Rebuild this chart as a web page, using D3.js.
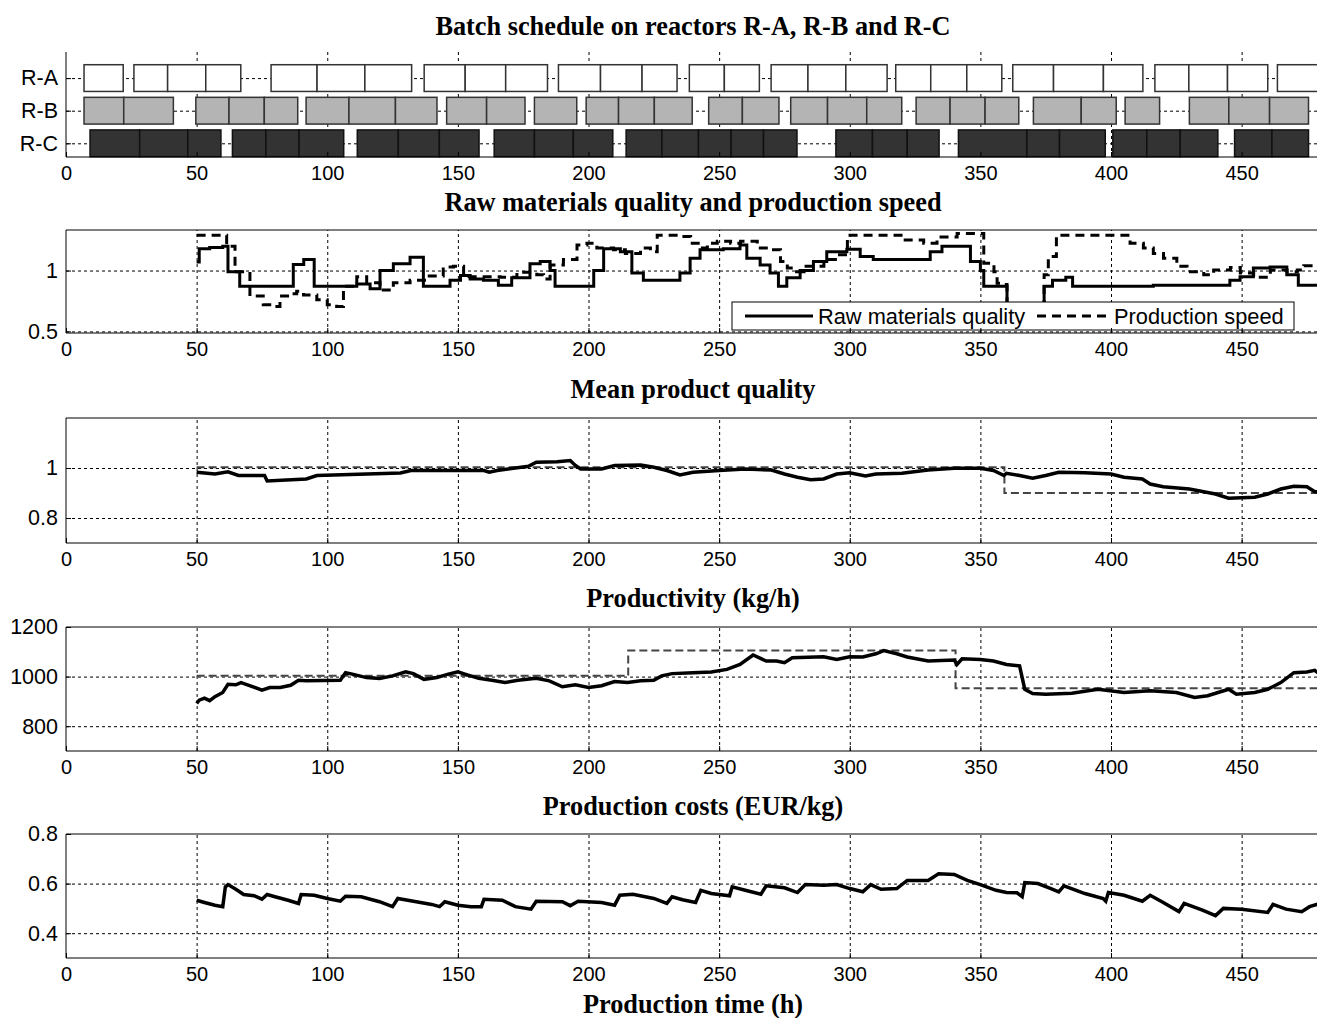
<!DOCTYPE html>
<html>
<head>
<meta charset="utf-8">
<script src="https://cdn.jsdelivr.net/npm/d3@7"></script>
<style>
body { margin: 0; background: #fff; }
svg { display: block; }
.tick text { font-family: "Liberation Sans", Arial, sans-serif; font-size: 20px; fill: #000; }
.y-axis .tick text { font-size: 21.5px; }
.title { font-family: "Liberation Serif", "Times New Roman", serif; font-weight: bold; font-size: 26.3px; fill: #000; }
.legend text { font-family: "Liberation Sans", Arial, sans-serif; font-size: 21.8px; fill: #000; }
</style>
</head>
<body>
<svg id="chart"></svg>
<script>
const T_MAX = 480;
const X_TICKS = [0, 50, 100, 150, 200, 250, 300, 350, 400, 450];

// batch schedule: [start, end] in hours
const REACTORS = ['R-A', 'R-B', 'R-C'];
const BATCHES_A = [[6.9,21.9],[26,38.9],[38.9,53.5],[53.5,66.9],[78.5,96.1],[96.1,114.4],[114.4,132.3],
	[137.1,152.8],[152.8,168.3],[168.3,184.3],[188.5,204.6],[204.6,220.5],[220.5,233.9],[238.6,252],
	[252,265.4],[269.9,284],[284,298.5],[298.5,314.3],[317.6,331],[331,344.8],[344.8,358.2],[362.4,378],
	[378,397.1],[397.1,412.2],[416.8,429.8],[429.8,444.6],[444.6,460],[463.7,486]];
const BATCHES_B = [[6.9,22.1],[22.1,41.1],[49.7,62.4],[62.4,75.9],[75.9,88.7],[91.9,108.3],[108.3,126.1],
	[126.1,142],[145.7,161],[161,175.7],[179.3,195.5],[199.1,211.5],[211.5,225.2],[225.2,239.7],[246,258.9],
	[258.9,272.9],[277.4,291.5],[291.5,306.5],[306.5,319.9],[325.4,338.4],[338.4,351.8],[351.8,364.7],
	[370.3,388.6],[388.6,402],[405.4,418.6],[430,445.1],[445.1,460.7],[460.7,475.6]];
const BATCHES_C = [[9.2,28.2],[28.2,46.6],[46.6,59.3],[63.7,76.5],[76.5,89.2],[89.2,106.3],[111.5,127.2],
	[127.2,142.9],[142.9,158.1],[163.9,179.3],[179.3,194.2],[194.2,209.3],[214.4,228.1],[228.1,242.1],
	[242.1,254.6],[254.6,267],[267,279.8],[294.7,308.7],[308.7,322],[322,334.2],[341.6,367.8],[367.8,380.3],
	[380.3,397.8],[400.7,413.7],[413.7,426.5],[426.5,440.9],[447.3,461.6],[461.6,475.6]];

// raw materials quality and production speed (step series: [t, value])
const RAW_QUALITY = [[50,1.07],[51,1.18],[55,1.19],[60,1.2],[62,0.99],[66.5,0.87],[87,1.05],[91,1.09],[95,0.87],
	[107.5,0.87],[111.3,0.89],[116.4,0.85],[120.2,1.0],[125.3,1.055],[131.7,1.11],[136.8,0.87],[147,0.92],
	[151,0.96],[154.7,0.93],[159.8,0.92],[165.5,0.88],[170.6,0.94],[177.6,1.055],[181.5,1.075],[185.3,1.0],
	[187.2,0.87],[202,1.0],[205.8,1.18],[212.2,1.155],[216.6,0.98],[221,0.92],[235,0.98],[238.9,1.1],
	[242.7,1.17],[251.6,1.18],[258,1.21],[260.6,1.1],[265.7,1.045],[269.5,0.98],[272.7,0.87],[275.9,0.94],
	[281,1.0],[286.1,1.075],[291.2,1.155],[298.9,1.175],[304,1.115],[309,1.09],[330.8,1.155],[335.3,1.2],
	[346.2,1.075],[350,1.0],[351.3,0.87],[360.2,0.7],[374.4,0.87],[377.6,0.92],[382.7,0.945],[385.3,0.87],
	[416.2,0.88],[445.5,0.92],[449.4,0.95],[454.5,1.02],[460.9,1.03],[467.3,0.965],[471.7,0.88],[480,0.88]];
const PROD_SPEED = [[50,1.29],[61.5,1.2],[64.7,0.99],[70.4,0.79],[75.5,0.72],[78.7,0.705],[81.9,0.79],
	[85.8,0.81],[88.3,0.83],[90.9,0.8],[96,0.76],[100,0.72],[103.6,0.705],[106.2,0.87],[111.3,0.95],
	[115.1,0.9],[120.2,0.84],[125.3,0.9],[131.7,0.92],[138,0.955],[144.4,1.03],[148.3,1.035],[152.2,0.95],
	[166.2,0.945],[172.6,0.985],[180.2,0.965],[182.8,0.93],[185.3,1.045],[190.4,1.09],[195.6,1.21],
	[199.4,1.225],[203.2,1.185],[209.6,1.17],[214.1,1.14],[219.9,1.185],[223.7,1.155],[226.3,1.29],
	[235.2,1.28],[239.1,1.225],[242.9,1.185],[245.5,1.225],[249.3,1.24],[254.4,1.225],[258.2,1.24],
	[264.6,1.185],[269.7,1.17],[273.5,1.075],[276.1,1.02],[278.6,0.99],[282.5,1.035],[290.1,1.09],
	[295.2,1.13],[299.1,1.29],[320.6,1.25],[328.3,1.225],[333.4,1.275],[341.1,1.305],[351.3,1.06],
	[353.9,1.045],[355.2,0.99],[356.4,0.895],[359,0.885],[360.2,0.7],[374.4,0.965],[376,1.115],[379.1,1.29],
	[407.3,1.225],[412.4,1.185],[416.2,1.14],[420.1,1.1],[425.2,1.035],[429.1,0.99],[435.5,0.965],
	[439.3,1.005],[445.7,1.025],[449.5,0.98],[454.6,0.945],[461,1.005],[467.4,0.99],[471.3,1.005],
	[473.8,1.04],[480,1.045]];

// mean product quality
const QUALITY_TARGET = [[50,1.003],[359.2,0.9],[480,0.9]];
const MEAN_QUALITY = [[50,0.983],[57,0.976],[62,0.985],[66,0.97],[76,0.97],[77,0.948],[92,0.956],[96,0.97],
	[128,0.98],[132,0.99],[160,0.99],[162,0.983],[165,0.99],[177,1.007],[180,1.023],[188,1.025],[193,1.03],
	[195,1.01],[197,0.996],[205,0.996],[210,1.01],[220,1.012],[225,1.003],[230,0.99],[235,0.972],[240,0.983],
	[250,0.99],[260,0.996],[270,0.992],[275,0.976],[280,0.963],[285,0.953],[290,0.956],[295,0.976],
	[300,0.981],[306,0.968],[310,0.976],[320,0.979],[330,0.992],[340,0.999],[350,0.999],[355,0.99],
	[359,0.97],[360,0.979],[365,0.97],[370,0.959],[375,0.97],[380,0.983],[390,0.981],[400,0.976],
	[405,0.963],[412,0.956],[415,0.936],[420,0.925],[430,0.916],[440,0.896],[445,0.879],[455,0.883],
	[460,0.896],[465,0.916],[470,0.927],[475,0.925],[478,0.905],[480,0.905]];

// productivity (kg/h)
const PROD_TARGET = [[50,1003],[215.2,1105],[340.5,953],[480,953]];
const PRODUCTIVITY = [[50,892],[51,905],[53,913],[55,903],[57,919],[60,936],[62,969],[65,967],[67,976],
	[70,965],[75,945],[78,956],[82,956],[86,965],[89,985],[92,983],[105,985],[107,1016],[110,1009],
	[115,996],[120,992],[125,1003],[130,1019],[133,1012],[137,989],[142,996],[146,1009],[150,1019],
	[153,1009],[158,993],[163,985],[168,976],[173,985],[180,993],[185,983],[190,959],[195,967],[200,956],
	[205,963],[210,980],[215,976],[220,983],[225,985],[228,1003],[232,1012],[240,1016],[247,1019],
	[253,1029],[258,1049],[263,1087],[268,1063],[272,1063],[275,1056],[278,1076],[290,1080],[295,1069],
	[300,1080],[305,1079],[310,1092],[313,1105],[318,1092],[322,1079],[330,1063],[340,1067],[341,1049],
	[343,1072],[350,1069],[355,1063],[360,1049],[365,1043],[367,949],[370,932],[375,929],[385,933],
	[395,949],[405,936],[415,943],[425,936],[432,916],[437,923],[445,949],[448,929],[455,936],[460,949],
	[465,976],[470,1016],[475,1019],[478,1025],[480,1009]];

// production costs (EUR/kg)
const COSTS = [[50,0.533],[53,0.524],[57,0.513],[60,0.507],[61,0.587],[62,0.596],[65,0.577],[68,0.556],
	[72,0.551],[75,0.537],[77,0.556],[80,0.547],[85,0.533],[89,0.52],[90,0.556],[95,0.553],[100,0.54],
	[105,0.529],[107,0.549],[113,0.547],[120,0.527],[125,0.507],[127,0.54],[133,0.529],[140,0.516],
	[143,0.507],[145,0.527],[150,0.513],[155,0.507],[159,0.507],[160,0.537],[167,0.533],[172,0.507],
	[178,0.497],[180,0.529],[190,0.527],[193,0.511],[196,0.529],[205,0.524],[210,0.513],[212,0.553],
	[217,0.557],[225,0.54],[230,0.52],[232,0.547],[236,0.535],[241,0.524],[243,0.573],[247,0.56],
	[254,0.551],[255,0.587],[260,0.573],[266,0.557],[268,0.591],[275,0.583],[280,0.564],[283,0.596],
	[290,0.593],[295,0.596],[300,0.58],[305,0.567],[308,0.596],[312,0.577],[318,0.58],[322,0.613],
	[330,0.613],[334,0.64],[340,0.637],[345,0.613],[350,0.596],[356,0.573],[360,0.564],[364,0.563],
	[366,0.547],[367,0.604],[372,0.6],[377,0.58],[380,0.567],[382,0.591],[390,0.56],[397,0.54],
	[398,0.529],[399,0.564],[405,0.553],[412,0.529],[415,0.553],[420,0.524],[426,0.487],[428,0.52],
	[435,0.493],[440,0.471],[443,0.5],[450,0.497],[460,0.484],[462,0.516],[467,0.497],[473,0.487],
	[476,0.507],[480,0.52]];

const SVG_WIDTH = 1317;
const SVG_HEIGHT = 1018;
const X_LEFT = 66;
const X_RIGHT = 1320;

const svg = d3.select('#chart')
	.attr('width', SVG_WIDTH)
	.attr('height', SVG_HEIGHT);

const x = d3.scaleLinear().domain([0, T_MAX]).range([X_LEFT, X_RIGHT]);

function drawGrid(top, bottom, y, yGrid){
	const g = svg.append('g').attr('class', 'grid');
	g.append('g')
		.attr('transform', 'translate(0, ' + bottom + ')')
		.call(d3.axisBottom(x).tickValues(X_TICKS.slice(1)).tickSize(-(bottom - top)).tickFormat(''));
	g.append('g')
		.attr('transform', 'translate(' + X_LEFT + ', 0)')
		.call(d3.axisLeft(y).tickValues(yGrid).tickSize(-(X_RIGHT - X_LEFT)).tickFormat(''));
	g.selectAll('.domain').remove();
	g.selectAll('line')
		.attr('stroke', '#000')
		.attr('stroke-width', 1)
		.attr('stroke-dasharray', '3,3');
}

function drawAxes(top, bottom, y, yTicks, yFormat, boxed){
	const g = svg.append('g');
	g.append('g')
		.attr('class', 'x-axis')
		.attr('transform', 'translate(0, ' + bottom + ')')
		.call(d3.axisBottom(x).tickValues(X_TICKS).tickSize(-5).tickPadding(9));
	g.append('g')
		.attr('class', 'y-axis')
		.attr('transform', 'translate(' + X_LEFT + ', 0)')
		.call(d3.axisLeft(y).tickValues(yTicks).tickFormat(yFormat).tickSize(-5).tickPadding(8));
	g.selectAll('.domain').remove();
	g.selectAll('.tick line').attr('stroke', '#000');
	g.selectAll('.tick text').attr('font-size', null).attr('font-family', null);

	g.append('line')
		.attr('x1', X_LEFT).attr('x2', X_RIGHT)
		.attr('y1', bottom).attr('y2', bottom)
		.attr('stroke', '#000');
	g.append('line')
		.attr('x1', X_LEFT).attr('x2', X_LEFT)
		.attr('y1', top).attr('y2', bottom)
		.attr('stroke', '#000');
	if (boxed) {
		g.append('line')
			.attr('x1', X_LEFT).attr('x2', X_RIGHT)
			.attr('y1', top).attr('y2', top)
			.attr('stroke', '#000');
	}
}

function title(text, yPos){
	svg.append('text')
		.attr('class', 'title')
		.attr('x', (X_LEFT + X_RIGHT) / 2)
		.attr('y', yPos)
		.attr('text-anchor', 'middle')
		.text(text);
}

function drawSeries(data, y, opts){
	svg.append('path')
		.attr('fill', 'none')
		.attr('stroke', opts.color || '#000')
		.attr('stroke-width', opts.width || 3)
		.attr('stroke-dasharray', opts.dash || null)
		.attr('stroke-linejoin', 'miter')
		.attr('d', d3.line()
			.x(d => x(d[0]))
			.y(d => y(d[1]))
			.curve(opts.step ? d3.curveStepAfter : d3.curveLinear)(data));
}

// Panel 1: batch schedule
{
	const top = 52, bottom = 157;
	const y = d3.scaleLinear().domain([0.2, 3.42]).range([top, bottom]);
	const HALF = 0.41;
	title('Batch schedule on reactors R-A, R-B and R-C', 35);
	drawGrid(top, bottom, y, [1, 2, 3]);

	const rows = [
		{ batches: BATCHES_A, fill: '#ffffff', stroke: '#333333' },
		{ batches: BATCHES_B, fill: '#b4b4b4', stroke: '#333333' },
		{ batches: BATCHES_C, fill: '#333333', stroke: '#111111' }
	];
	rows.forEach((row, i) => {
		svg.append('g')
			.selectAll('rect')
			.data(row.batches)
			.enter()
			.append('rect')
				.attr('x', d => x(d[0]))
				.attr('width', d => x(d[1]) - x(d[0]))
				.attr('y', y(i + 1 - HALF))
				.attr('height', y(i + 1 + HALF) - y(i + 1 - HALF))
				.attr('fill', row.fill)
				.attr('stroke', row.stroke)
				.attr('stroke-width', 1.5);
	});

	drawAxes(top, bottom, y, [1, 2, 3], d => REACTORS[d - 1], false);
}

// Panel 2: raw materials quality and production speed
{
	const top = 230, bottom = 333;
	const y = d3.scaleLinear().domain([0.487, 1.333]).range([bottom, top]);
	title('Raw materials quality and production speed', 211);
	drawGrid(top, bottom, y, [0.5, 1]);
	drawSeries(RAW_QUALITY, y, { step: true, width: 3 });
	drawSeries(PROD_SPEED, y, { step: true, width: 3, dash: '9,6' });

	const legend = svg.append('g').attr('class', 'legend');
	legend.append('rect')
		.attr('x', 732).attr('y', 302).attr('width', 562).attr('height', 28)
		.attr('fill', '#fff').attr('stroke', '#000');
	legend.append('line')
		.attr('x1', 745).attr('x2', 813).attr('y1', 316).attr('y2', 316)
		.attr('stroke', '#000').attr('stroke-width', 3);
	legend.append('text').attr('x', 818).attr('y', 324).text('Raw materials quality');
	legend.append('line')
		.attr('x1', 1037).attr('x2', 1108).attr('y1', 316).attr('y2', 316)
		.attr('stroke', '#000').attr('stroke-width', 3).attr('stroke-dasharray', '9,6');
	legend.append('text').attr('x', 1114).attr('y', 324).text('Production speed');

	drawAxes(top, bottom, y, [0.5, 1], d3.format(''), true);
}

// Panel 3: mean product quality
{
	const top = 418, bottom = 543;
	const y = d3.scaleLinear().domain([0.7, 1.2]).range([bottom, top]);
	title('Mean product quality', 398);
	drawGrid(top, bottom, y, [0.8, 1]);
	drawSeries(QUALITY_TARGET, y, { step: true, width: 2, color: '#444', dash: '8,4' });
	drawSeries(MEAN_QUALITY, y, { width: 3.5 });
	drawAxes(top, bottom, y, [0.8, 1], d3.format(''), true);
}

// Panel 4: productivity
{
	const top = 627, bottom = 751;
	const y = d3.scaleLinear().domain([700, 1200]).range([bottom, top]);
	title('Productivity (kg/h)', 607);
	drawGrid(top, bottom, y, [800, 1000]);
	drawSeries(PROD_TARGET, y, { step: true, width: 2, color: '#444', dash: '8,4' });
	drawSeries(PRODUCTIVITY, y, { width: 3.5 });
	drawAxes(top, bottom, y, [800, 1000, 1200], d3.format(''), true);
}

// Panel 5: production costs
{
	const top = 834, bottom = 958;
	const y = d3.scaleLinear().domain([0.3, 0.8]).range([bottom, top]);
	title('Production costs (EUR/kg)', 815);
	drawGrid(top, bottom, y, [0.4, 0.6]);
	drawSeries(COSTS, y, { width: 3.5 });
	drawAxes(top, bottom, y, [0.4, 0.6, 0.8], d3.format(''), true);
	title('Production time (h)', 1013);
}
</script>
</body>
</html>
